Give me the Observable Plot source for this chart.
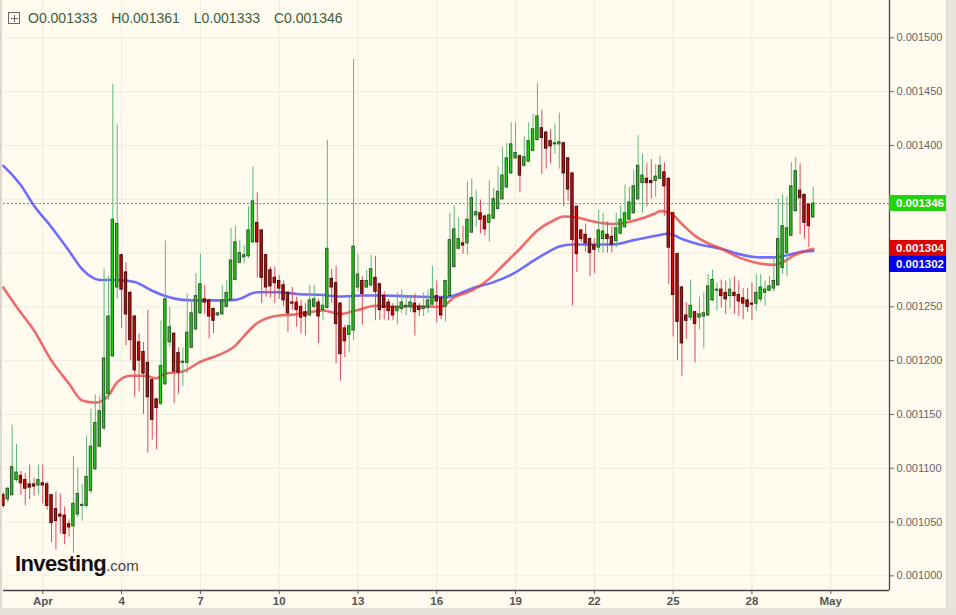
<!DOCTYPE html>
<html><head><meta charset="utf-8">
<script src="https://cdn.jsdelivr.net/npm/d3@7"></script>
<script src="https://cdn.jsdelivr.net/npm/@observablehq/plot@0.6"></script>
<style>
html,body{margin:0;padding:0;background:#fffbef;}
#wrap{position:relative;width:956px;height:615px;overflow:hidden;background:#fffbef;font-family:"Liberation Sans",Arial,sans-serif;}
#chart{position:absolute;left:0;top:0;}
#ohlc{position:absolute;left:8px;top:10px;font-size:14px;color:#3d5e3d;white-space:nowrap;display:flex;align-items:center;}
#ohlc .ic{display:inline-block;width:10px;height:10px;border:1px solid #6a6a6a;position:relative;margin-right:8px;}
#ohlc .ic:before{content:"";position:absolute;left:2px;top:5px;width:7px;height:1px;background:#6a6a6a;}
#ohlc .ic:after{content:"";position:absolute;left:5px;top:2px;width:1px;height:7px;background:#6a6a6a;}
#ohlc .g{margin-right:14px;}
#logo{position:absolute;left:15px;top:551px;font-size:22px;font-weight:bold;color:#111;letter-spacing:-0.6px;}
#logo span{font-size:15px;font-weight:normal;color:#444;letter-spacing:0;}
#sbR{position:absolute;left:946px;top:0;width:10px;height:615px;background:#e8e5de;border-left:1px solid #dcd8cf;}
#sbB{position:absolute;left:0;top:608px;width:956px;height:7px;background:#e4e1da;}
#lEdge{position:absolute;left:0;top:0;width:2px;height:608px;background:#dcd9d0;}
.tag{position:absolute;left:889px;width:57px;height:16px;line-height:16px;color:#fff;font-size:11.5px;font-weight:bold;padding-left:7px;box-sizing:border-box;}
</style></head><body>
<div id="wrap">
  <div id="chart"></div>
  <div id="lEdge"></div>
  <div id="ohlc"><span class="ic"></span><span class="g">O0.001333</span><span class="g">H0.001361</span><span class="g">L0.001333</span><span class="g">C0.001346</span></div>
  <div id="logo">Investing<span>.com</span></div>
  <div id="sbR"></div><div id="sbB"></div>
</div>
<script>
// 4-hour candles, prices in millionths (x 1e-6), first candle Mar 30 12:00
const open  = [1075,1071,1075,1089,1093,1089,1085,1085,1084,1086,1085,1075,1062,1057,1056,1048,1046,1057,1065,1065,1079,1099,1120,1137,1169,1204,1268,1298,1282,1263,1241,1217,1208,1198,1182,1164,1160,1178,1217,1225,1207,1198,1198,1212,1229,1244,1257,1256,1248,1242,1243,1250,1256,1275,1291,1296,1297,1310,1328,1321,1298,1284,1277,1274,1270,1263,1254,1254,1250,1245,1242,1250,1254,1247,1249,1276,1272,1253,1230,1224,1228,1268,1274,1268,1270,1277,1271,1260,1254,1250,1246,1248,1250,1250,1253,1250,1248,1249,1252,1260,1258,1250,1260,1287,1304,1309,1309,1319,1335,1337,1334,1328,1332,1341,1350,1361,1374,1388,1390,1381,1385,1395,1405,1416,1412,1404,1401,1401,1402,1388,1374,1343,1321,1317,1313,1307,1305,1313,1317,1315,1311,1318,1324,1331,1337,1350,1365,1369,1367,1367,1369,1375,1369,1337,1299,1268,1242,1240,1245,1240,1241,1242,1256,1265,1266,1263,1260,1263,1261,1258,1256,1253,1253,1257,1263,1265,1267,1270,1286,1300,1316,1339,1358,1354,1345,1333];
const high  = [1077,1082,1140,1122,1097,1095,1103,1091,1103,1103,1087,1076,1078,1076,1064,1052,1111,1100,1085,1130,1155,1168,1167,1285,1278,1457,1419,1299,1291,1264,1242,1225,1217,1247,1183,1165,1237,1311,1250,1226,1212,1212,1262,1256,1281,1299,1270,1257,1249,1245,1270,1274,1323,1325,1312,1307,1343,1380,1356,1322,1299,1287,1287,1279,1274,1264,1268,1259,1256,1253,1270,1270,1257,1262,1405,1285,1288,1254,1233,1260,1480,1299,1278,1284,1298,1297,1272,1264,1257,1253,1263,1266,1260,1260,1262,1253,1263,1265,1288,1274,1259,1275,1337,1344,1333,1325,1366,1369,1358,1349,1335,1367,1360,1380,1398,1402,1421,1421,1391,1408,1421,1429,1458,1433,1413,1415,1420,1430,1403,1389,1375,1344,1322,1327,1314,1313,1340,1337,1329,1324,1337,1344,1363,1361,1377,1409,1392,1383,1387,1382,1390,1384,1370,1338,1300,1269,1254,1275,1246,1259,1263,1280,1284,1272,1275,1274,1276,1278,1274,1267,1267,1272,1280,1280,1274,1278,1297,1350,1354,1352,1384,1389,1383,1355,1346,1361];
const low   = [1063,1068,1074,1087,1075,1065,1071,1074,1075,1067,1061,1031,1024,1039,1029,1036,1021,1054,1051,1063,1076,1098,1119,1135,1163,1203,1257,1230,1214,1200,1166,1171,1150,1114,1126,1117,1158,1177,1212,1160,1169,1176,1188,1211,1228,1243,1243,1220,1225,1241,1242,1249,1255,1274,1290,1290,1295,1309,1277,1253,1259,1258,1253,1257,1250,1226,1247,1231,1225,1223,1241,1248,1216,1237,1248,1253,1197,1181,1203,1208,1219,1264,1233,1267,1268,1237,1237,1238,1237,1237,1233,1244,1242,1245,1223,1241,1241,1244,1251,1235,1238,1236,1259,1286,1303,1299,1298,1318,1324,1318,1316,1310,1331,1340,1349,1360,1373,1387,1356,1380,1384,1394,1404,1373,1378,1383,1392,1378,1343,1348,1251,1282,1310,1301,1278,1281,1300,1300,1300,1300,1305,1317,1323,1330,1336,1349,1337,1343,1350,1352,1368,1334,1271,1222,1200,1185,1220,1237,1198,1229,1211,1241,1255,1246,1249,1243,1248,1243,1241,1238,1245,1237,1246,1254,1251,1264,1264,1269,1280,1278,1315,1338,1317,1313,1305,1333];
const close = [1065,1081,1101,1096,1086,1081,1082,1083,1089,1084,1065,1049,1051,1055,1039,1045,1067,1076,1066,1092,1120,1142,1153,1202,1241,1331,1327,1266,1243,1219,1191,1200,1188,1166,1145,1156,1195,1257,1231,1190,1189,1199,1226,1244,1260,1271,1254,1241,1237,1244,1256,1263,1293,1310,1300,1298,1321,1348,1310,1277,1268,1269,1272,1267,1256,1244,1253,1247,1240,1241,1256,1257,1241,1251,1304,1268,1234,1206,1218,1232,1306,1280,1262,1274,1285,1264,1247,1249,1246,1242,1250,1254,1251,1254,1245,1247,1250,1256,1266,1255,1242,1274,1312,1322,1313,1307,1331,1351,1338,1331,1322,1335,1350,1357,1372,1388,1401,1393,1372,1389,1404,1415,1427,1407,1397,1399,1402,1403,1374,1359,1312,1299,1313,1309,1300,1303,1321,1320,1313,1308,1323,1331,1337,1347,1362,1381,1372,1365,1365,1371,1381,1362,1305,1261,1236,1216,1237,1251,1234,1243,1244,1269,1275,1266,1260,1257,1266,1260,1255,1253,1250,1252,1263,1268,1266,1269,1274,1313,1325,1323,1362,1376,1351,1328,1325,1346];

// moving averages read at candle numbers (1 = first candle)
const redIdx  = [1,4,8,12,16,19,22,25,27,30,33,36,38,42,46,50,54,56,59,64,68,74,78,82,86,91,96,101,104,108,112,115,119,123,127,129,132,136,140,145,150,151,153,156,159,162,165,169,172,177,179,182,184,186];
const redVal  = [1268,1250,1228,1200,1178.5,1163,1161,1167.6,1180,1186,1186,1183.7,1188,1190,1199,1205,1214,1223,1235,1242,1243,1246.6,1243.5,1247,1251,1250,1250.6,1250,1259,1265,1276,1288,1304,1321,1331,1334,1333,1329,1327,1330,1337,1339,1338,1327,1316,1309,1304,1296,1292,1289,1291.5,1298.6,1301.4,1304];
const blueIdx = [1,5,8,12,16,19,23,27,31,35,38,42,46,50,54,59,64,68,74,78,83,88,95,102,105,108,113,118,121,125,128,131,136,140,145,150,153,156,160,165,169,174,177,180,183,186];
const blueVal = [1381,1363,1344,1324,1302,1285,1275,1275,1273,1265,1260,1256.5,1256,1256,1256.5,1263.6,1263.6,1262,1261,1259.6,1260.5,1260.5,1259.6,1259,1262,1267,1273,1282,1290,1300,1306,1308,1308,1308,1312,1316,1318,1313,1308,1304,1299,1296,1296,1298,1301,1302];

const yTicks = [0.001000,0.001050,0.001100,0.001150,0.001200,0.001250,0.001300,0.001350,0.001400,0.001450,0.001500];
const xTickDays = [[3,1],[3,4],[3,7],[3,10],[3,13],[3,16],[3,19],[3,22],[3,25],[3,28],[4,1]];
const monthNames = ["Jan","Feb","Mar","Apr","May","Jun"];
const lastClose = 1346, redLast = 1304, blueLast = 1302;

const S = 1e-6, H = 3600e3, H4 = 4*H;
const t0 = Date.UTC(2019,2,30,12);
const apr1 = Date.UTC(2019,3,1);
const candles = open.map((o,i)=>({date:new Date(t0+i*H4), open:o*S, high:high[i]*S, low:low[i]*S, close:close[i]*S, up: close[i]>=o}));
const redMA = redIdx.map((k,i)=>({date:new Date(t0+(k-1)*H4), v:redVal[i]*S}));
const blueMA = blueIdx.map((k,i)=>({date:new Date(t0+(k-1)*H4), v:blueVal[i]*S}));
const xTicks = xTickDays.map(([m,d])=>new Date(Date.UTC(2019,m,d)));
const xDomain = [new Date(apr1-35.9*H), new Date(apr1+773.7*H)];
const yDomain = [0.0009864, 0.0015347];

// y scale (same as the plot's) used to find which tick labels sit under the price tags
const yScaleTmp = Plot.scale({y:{domain:yDomain, range:[590,0]}});
const tagVals = [lastClose*S, redLast*S, blueLast*S];
const tagTops = [];
tagTops.push(yScaleTmp.apply(tagVals[0])-8);
tagTops.push(yScaleTmp.apply(tagVals[1])-8);
tagTops.push(Math.max(yScaleTmp.apply(tagVals[2])-8, tagTops[1]+16));
function hidden(v){
  const p = yScaleTmp.apply(v);
  return tagTops.some(t => p > t-6 && p < t+22);
}

const chart = Plot.plot({
  width:956, height:608,
  marginLeft:3, marginRight:67, marginTop:0, marginBottom:18,
  style:{background:"transparent", fontFamily:"'Liberation Sans', Arial, sans-serif", fontSize:"11px", overflow:"visible"},
  x:{type:"utc", domain:xDomain},
  y:{domain:yDomain},
  marks:[
    Plot.gridX(xTicks,{stroke:"#eeeadc", strokeOpacity:1}),
    Plot.gridY(yTicks,{stroke:"#eeeadc", strokeOpacity:1}),
    Plot.axisY(yTicks,{anchor:"right", tickSize:4, tickPadding:3, tickFormat:d=>hidden(d)?"":d.toFixed(6), stroke:"#666", fill:"#666", label:null, fontSize:11}),
    Plot.axisX(xTicks,{anchor:"bottom", tickSize:4, tickPadding:2, stroke:"#555", fill:"#555", fontWeight:"bold", fontSize:11.5, label:null,
      tickFormat:d=>d.getUTCDate()===1 ? monthNames[d.getUTCMonth()] : String(d.getUTCDate())}),
    Plot.ruleY([lastClose*S],{stroke:"#22c422", strokeDasharray:"2,2", strokeWidth:1}),
    Plot.line(blueMA,{x:"date", y:"v", stroke:"#4b4bff", strokeWidth:2.6, strokeOpacity:0.8, curve:"monotone-x"}),
    Plot.line(redMA,{x:"date", y:"v", stroke:"#e64848", strokeWidth:2.6, strokeOpacity:0.8, curve:"monotone-x"}),
    Plot.ruleX(candles,{x:"date", y1:"low", y2:"high", stroke:d=>d.up?"#5cb87a":"#e6475c", strokeWidth:1}),
    Plot.rect(candles,{x1:d=>new Date(+d.date-1.1*H), x2:d=>new Date(+d.date+1.1*H), y1:"open", y2:"close",
      fill:d=>d.up?"#1fcf10":"#c80c0c", stroke:d=>d.up?"#2a5a2a":"#4a0808", strokeWidth:1}),
    Plot.ruleY([yDomain[0]],{stroke:"#444", strokeWidth:1.3}),
    Plot.ruleX([xDomain[1]],{stroke:"#444", strokeWidth:1.3})
  ]
});
document.getElementById("chart").appendChild(chart);

const wrap = document.getElementById("wrap");
const tagColors = ["#22d40a", "#dd0000", "#0000ee"];
const tagLabels = [lastClose, redLast, blueLast];
tagLabels.forEach((val, i) => {
  const d = document.createElement("div");
  d.className = "tag"; d.style.background = tagColors[i]; d.style.top = tagTops[i]+"px";
  d.textContent = (val*S).toFixed(6);
  wrap.appendChild(d);
});
</script>
</body></html>
